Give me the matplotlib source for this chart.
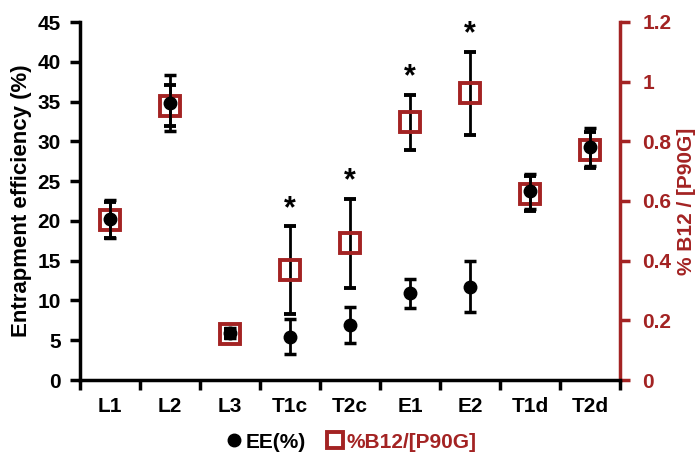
import numpy as np
import matplotlib.pyplot as plt
from matplotlib.lines import Line2D
from matplotlib.ticker import FuncFormatter

plt.rcParams['font.family'] = ['Liberation Sans', 'DejaVu Sans']
plt.rcParams['font.weight'] = 'bold'

# formulations
labels = ['L1', 'L2', 'L3', 'T1c', 'T2c', 'E1', 'E2', 'T1d', 'T2d']

# entrapment efficiency (%) and its error
ee = [20.2, 34.8, 5.9, 5.45, 6.9, 10.9, 11.7, 23.7, 29.3]
ee_err = [2.4, 3.5, 0.6, 2.2, 2.3, 1.8, 3.2, 2.2, 2.4]

# %B12 / [P90G] ratio and its error
ratio = [0.537, 0.92, 0.155, 0.368, 0.458, 0.864, 0.961, 0.625, 0.771]
ratio_err = [0.06, 0.07, 0.015, 0.147, 0.15, 0.092, 0.14, 0.06, 0.06]

# groups marked as significant
signif = ['T1c', 'T2c', 'E1', 'E2']

red = '#a32323'
x = np.arange(len(labels))

fig = plt.figure(figsize=(7, 4.59), dpi=100)
ax = fig.add_axes([80 / 700, 1 - 380 / 459, 540 / 700, 358 / 459])
ax2 = ax.twinx()

# ratio: hollow red squares with black error bars
ax2.errorbar(x, ratio, yerr=ratio_err, fmt='s', ms=15, mfc='none',
             mec=red, mew=2.8, ecolor='black', elinewidth=2,
             capsize=4.5, capthick=2.5, zorder=2)
for i, name in enumerate(labels):
    if name in signif:
        ax2.text(x[i], ratio[i] + ratio_err[i] + 0.008, '*', ha='center',
                 va='bottom', fontsize=22, fontweight='bold')

# EE: black dots on top
ax.errorbar(x, ee, yerr=ee_err, fmt='o', ms=9, color='black',
            ecolor='black', elinewidth=2, capsize=4.5, capthick=2.5,
            zorder=3)
ax.set_zorder(ax2.get_zorder() + 1)
ax.patch.set_visible(False)

ax.set_xlim(-0.5, len(labels) - 0.5)
ax.set_ylim(0, 45)
ax2.set_ylim(0, 1.2)
ax.set_yticks(np.arange(0, 46, 5))
ax2.set_yticks(np.arange(0, 1.21, 0.2))
ax2.yaxis.set_major_formatter(FuncFormatter(lambda v, p: f'{v:g}'))

# category labels at centers, tick marks at boundaries
ax.set_xticks(np.arange(-0.5, len(labels), 1.0))
ax.set_xticklabels([])
ax.set_xticks(x, minor=True)
ax.set_xticklabels(labels, minor=True)
ax.tick_params(axis='x', which='minor', length=0, pad=12, labelsize=15)
ax.tick_params(axis='x', which='major', direction='out', length=7, width=2.5)
ax.tick_params(axis='y', direction='out', length=7, width=2.5, labelsize=15,
               pad=7)
ax2.tick_params(axis='y', direction='out', length=7, width=2.5,
                labelsize=15, colors=red, pad=9)

for side in ['top', 'right']:
    ax.spines[side].set_visible(False)
for side in ['top', 'left', 'bottom']:
    ax2.spines[side].set_visible(False)
ax.spines['left'].set_linewidth(2.5)
ax.spines['bottom'].set_linewidth(2.5)
ax2.spines['right'].set_linewidth(2.5)
ax2.spines['right'].set_color(red)

ax.set_ylabel('Entrapment efficiency (%)', fontsize=16, fontweight='bold')
ax.yaxis.set_label_coords(-0.088, 0.5)
ax2.set_ylabel('% B12 / [P90G]', fontsize=15, fontweight='bold', color=red)
ax2.yaxis.set_label_coords(1.106, 0.5)

handles = [
    Line2D([], [], ls='none', marker='o', ms=9, color='black'),
    Line2D([], [], ls='none', marker='s', ms=11, mfc='none', mec=red, mew=2.8),
]
fig.legend(handles, ['EE(%)', '%B12/[P90G]'], loc='center',
           bbox_to_anchor=(0.5, 1 - 442 / 459), ncol=2, frameon=False,
           fontsize=15, labelcolor=['black', red], handletextpad=0.05,
           columnspacing=0.9, handlelength=1.0)

fig.savefig('out.png', dpi=100)
